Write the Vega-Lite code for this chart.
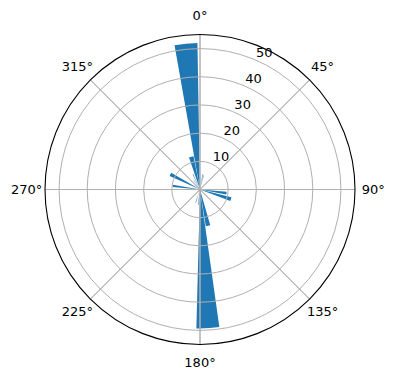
{
  "$schema": "https://vega.github.io/schema/vega-lite/v6.json",
  "width": 392,
  "height": 379,
  "autosize": "none",
  "padding": {"left": 4, "top": 0, "right": 0, "bottom": 1},
  "background": "white",
  "config": {"view": {"stroke": null}, "font": "DejaVu Sans"},
  "datasets": {
    "bars": [
      {"start": 350, "end": 359, "r": 52},
      {"start": 341, "end": 349, "r": 12},
      {"start": 294, "end": 300, "r": 11.8},
      {"start": 275, "end": 280, "r": 9.8},
      {"start": 95, "end": 101, "r": 9.5},
      {"start": 104, "end": 111, "r": 11.5},
      {"start": 164, "end": 171, "r": 13.2},
      {"start": 172, "end": 181.5, "r": 49.3},
      {"start": 9, "end": 11, "r": 5.5},
      {"start": 13, "end": 15, "r": 5.2},
      {"start": 186, "end": 188, "r": 5.5},
      {"start": 197, "end": 199, "r": 5},
      {"start": 326, "end": 328, "r": 4},
      {"start": 334, "end": 336, "r": 6}
    ],
    "rings": [{"r": 10}, {"r": 20}, {"r": 30}, {"r": 40}, {"r": 50}],
    "spokes": [{"a": 0}, {"a": 45}, {"a": 90}, {"a": 135}, {"a": 180}, {"a": 225}, {"a": 270}, {"a": 315}],
    "angleLabels": [
      {"a": 0, "label": "0°"}, {"a": 45, "label": "45°"}, {"a": 90, "label": "90°"}, {"a": 135, "label": "135°"},
      {"a": 180, "label": "180°"}, {"a": 225, "label": "225°"}, {"a": 270, "label": "270°"}, {"a": 315, "label": "315°"}
    ],
    "rLabels": [
      {"r": 10, "label": "10"}, {"r": 20, "label": "20"}, {"r": 30, "label": "30"}, {"r": 40, "label": "40"}, {"r": 50, "label": "50"}
    ]
  },
  "layer": [
    {
      "data": {"name": "bars"},
      "mark": {"type": "arc", "color": "#1f77b4"},
      "encoding": {
        "theta": {"field": "start", "type": "quantitative", "stack": null, "scale": {"domain": [0, 360], "range": [0, 6.283185307179586]}},
        "theta2": {"field": "end"},
        "radius": {"field": "r", "type": "quantitative", "stack": null, "scale": {"type": "linear", "domain": [0, 55], "range": [0, 155], "zero": true}}
      }
    },
    {
      "data": {"name": "rings"},
      "mark": {"type": "arc", "fillOpacity": 0, "fill": "white", "stroke": "#b0b0b0", "strokeWidth": 1},
      "encoding": {
        "theta": {"datum": 0, "type": "quantitative", "stack": null},
        "theta2": {"datum": 360},
        "radius": {"field": "r", "type": "quantitative", "stack": null}
      }
    },
    {
      "data": {"name": "spokes"},
      "mark": {"type": "arc", "fillOpacity": 0, "fill": "white", "stroke": "#b0b0b0", "strokeWidth": 1},
      "encoding": {
        "theta": {"field": "a", "type": "quantitative", "stack": null},
        "theta2": {"field": "a"},
        "radius": {"datum": 55, "type": "quantitative", "stack": null}
      }
    },
    {
      "data": {"values": [{"r": 55}]},
      "mark": {"type": "arc", "fillOpacity": 0, "fill": "white", "stroke": "black", "strokeWidth": 1.1},
      "encoding": {
        "theta": {"datum": 0, "type": "quantitative", "stack": null},
        "theta2": {"datum": 360},
        "radius": {"field": "r", "type": "quantitative", "stack": null}
      }
    },
    {
      "data": {"name": "angleLabels"},
      "mark": {"type": "text", "fontSize": 13, "align": "center", "baseline": "middle", "color": "black"},
      "encoding": {
        "theta": {"field": "a", "type": "quantitative", "stack": null},
        "radius": {"datum": 61.5, "type": "quantitative", "stack": null},
        "text": {"field": "label"}
      }
    },
    {
      "data": {"name": "rLabels"},
      "mark": {"type": "text", "fontSize": 13, "align": "left", "baseline": "alphabetic", "dx": 2, "dy": -2, "color": "black"},
      "encoding": {
        "theta": {"datum": 22.5, "type": "quantitative", "stack": null},
        "radius": {"field": "r", "type": "quantitative", "stack": null},
        "text": {"field": "label"}
      }
    }
  ]
}
